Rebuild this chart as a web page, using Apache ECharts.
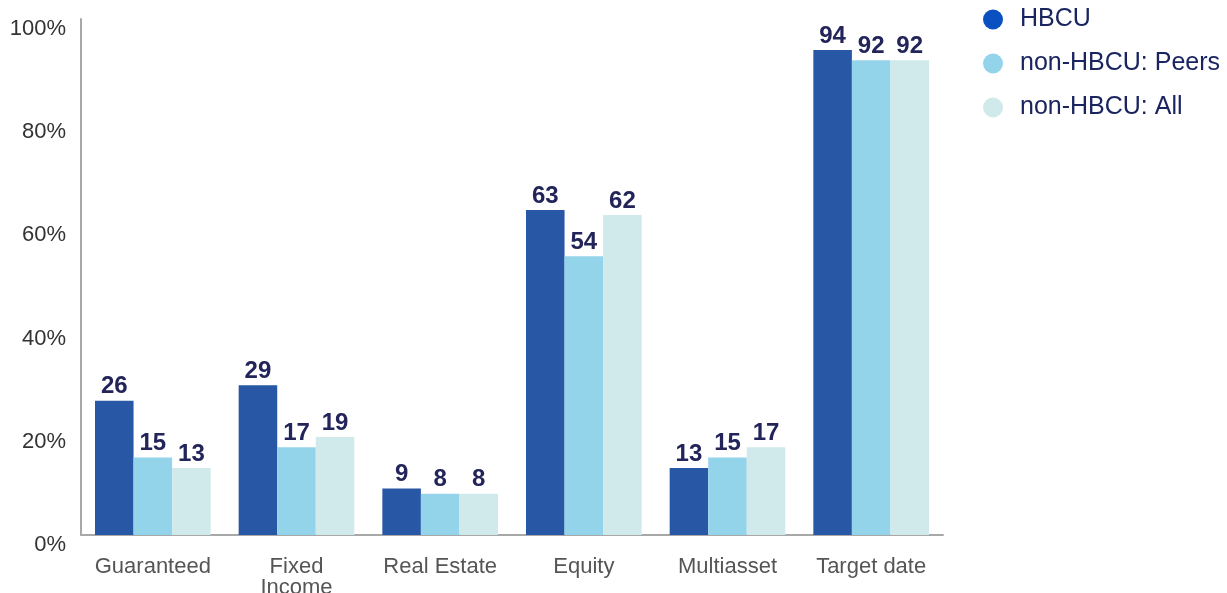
<!DOCTYPE html>
<html>
<head>
<meta charset="utf-8">
<script src="https://cdn.jsdelivr.net/npm/echarts@6/dist/echarts.min.js"></script>
<style>
  html, body { margin: 0; padding: 0; background: #fff; }
  #chart { width: 1227px; height: 593px; }
</style>
</head>
<body>
<div id="chart"></div>
<script>
// Share of plans offering each investment category, by institution group
const categories = ['Guaranteed', 'Fixed\nIncome', 'Real Estate', 'Equity', 'Multiasset', 'Target date'];
const hbcu = [26, 29, 9, 63, 13, 94];
const peers = [15, 17, 8, 54, 15, 92];
const allNonHbcu = [13, 19, 8, 62, 17, 92];
const seriesNames = ['HBCU', 'non-HBCU: Peers', 'non-HBCU: All'];
const yTicks = [0, 20, 40, 60, 80, 100];

const FONT = 'Liberation Sans, Arial, sans-serif';
const barColors = ['#2757a5', '#94d4ea', '#d0eaeb'];
const legendColors = ['#0a50c0', '#94d4ea', '#d0eaeb'];

const chart = echarts.init(document.getElementById('chart'));

function barSeries(name, data, color) {
  return {
    name: name,
    type: 'bar',
    data: data,
    barGap: '0%',
    barCategoryGap: '19.5%',
    itemStyle: { color: color },
    label: {
      show: true,
      position: 'top',
      distance: 2,
      color: '#22245a',
      fontFamily: FONT,
      fontWeight: 'bold',
      fontSize: 24
    },
    emphasis: { disabled: true }
  };
}

chart.setOption({
  animation: false,
  textStyle: { fontFamily: FONT },
  grid: {
    left: 81, right: 284, top: 19, bottom: 58,
    containLabel: false,
    outerBoundsMode: 'none'
  },
  legend: {
    orient: 'vertical',
    left: 978,
    top: 2,
    icon: 'circle',
    itemWidth: 20,
    itemHeight: 20,
    itemGap: 19,
    textStyle: {
      color: '#1a2560',
      fontSize: 25,
      lineHeight: 23,
      fontFamily: FONT,
      padding: [0, 0, 0, 12]
    },
    data: seriesNames.map((n, i) => ({ name: n, itemStyle: { color: legendColors[i] } }))
  },
  xAxis: {
    type: 'category',
    data: categories,
    axisLine: { show: true, lineStyle: { color: '#a8a8a8', width: 2 } },
    axisTick: { show: false },
    axisLabel: {
      color: '#555',
      fontSize: 22,
      fontFamily: FONT,
      margin: 21,
      lineHeight: 21,
      interval: 0
    }
  },
  yAxis: {
    type: 'value',
    min: 0,
    max: 100,
    interval: 20,
    splitLine: { show: false },
    axisLine: { show: true, lineStyle: { color: '#a8a8a8', width: 2 } },
    axisTick: { show: false },
    axisLabel: {
      color: '#333',
      fontSize: 22,
      fontFamily: FONT,
      margin: 15,
      verticalAlign: 'top',
      padding: [-1, 0, 0, 0],
      formatter: v => (yTicks.includes(v) ? v + '%' : '')
    }
  },
  series: [
    barSeries(seriesNames[0], hbcu, barColors[0]),
    barSeries(seriesNames[1], peers, barColors[1]),
    barSeries(seriesNames[2], allNonHbcu, barColors[2])
  ]
});
</script>
</body>
</html>
